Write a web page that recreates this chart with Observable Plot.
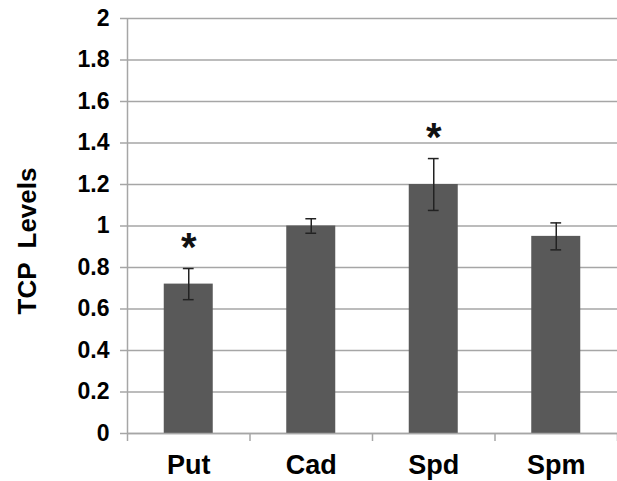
<!DOCTYPE html>
<html>
<head>
<meta charset="utf-8">
<script src="https://cdn.jsdelivr.net/npm/d3@7"></script>
<script src="https://cdn.jsdelivr.net/npm/@observablehq/plot@0.6"></script>
<style>
  html, body { margin: 0; padding: 0; background: #fff; }
  #chart svg { display: block; }
</style>
</head>
<body>
<div id="chart"></div>
<script>
const categories = ["Put", "Cad", "Spd", "Spm"];
const values = [0.72, 1.0, 1.2, 0.95];
const errors = [0.075, 0.035, 0.125, 0.065];
const significant = [true, false, true, false];
const yTicks = [0, 0.2, 0.4, 0.6, 0.8, 1, 1.2, 1.4, 1.6, 1.8, 2];
const yLabel = "TCP  Levels";

const data = categories.map((c, i) => ({
  cat: c, i, value: values[i], err: errors[i], sig: significant[i]
}));
const boundaries = d3.range(categories.length + 1);

const font = "'Liberation Sans', Arial, Helvetica, sans-serif";
const gridColor = "#a6a6a6";
const barColor = "#595959";
const capHalf = 0.044;

const chart = Plot.plot({
  width: 617,
  height: 481,
  marginLeft: 127,
  marginRight: 0,
  marginTop: 18,
  marginBottom: 48,
  style: { fontFamily: font, background: "#fff", color: "#000", fontSize: "21px" },
  x: { type: "linear", domain: [0, categories.length], axis: null },
  y: { type: "linear", domain: [0, 2], axis: null },
  marks: [
    Plot.ruleY(yTicks, { y: d => d, stroke: gridColor, strokeWidth: 1.5 }),
    Plot.ruleY(yTicks, { y: d => d, x1: 0, x2: 0, insetLeft: -7, stroke: gridColor, strokeWidth: 1.5 }),
    Plot.text(yTicks, {
      y: d => d, frameAnchor: "left", dx: -18, textAnchor: "end",
      text: d => String(+d.toFixed(1)),
      fontSize: 23, fontWeight: "bold", fill: "#000", lineAnchor: "middle"
    }),
    Plot.ruleX([0], { x: d => d, y1: 0, y2: 2, stroke: gridColor, strokeWidth: 1.5 }),
    Plot.ruleX(boundaries, {
      x: d => d, y1: 0, y2: 0, insetBottom: -8, stroke: gridColor, strokeWidth: 1.5
    }),
    Plot.rectY(data, {
      x1: d => d.i + 0.3, x2: d => d.i + 0.7, y1: 0, y2: "value", fill: barColor
    }),
    Plot.ruleY([0], { y: d => d, stroke: gridColor, strokeWidth: 1.5 }),
    Plot.ruleX(data, { x: d => d.i + 0.5, y1: d => d.value - d.err, y2: d => d.value + d.err, stroke: "#222", strokeWidth: 1.5 }),
    Plot.ruleY(data, { x1: d => d.i + 0.5 - capHalf, x2: d => d.i + 0.5 + capHalf, y: d => d.value + d.err, stroke: "#222", strokeWidth: 1.5 }),
    Plot.ruleY(data, { x1: d => d.i + 0.5 - capHalf, x2: d => d.i + 0.5 + capHalf, y: d => d.value - d.err, stroke: "#222", strokeWidth: 1.5 }),
    Plot.text(data.filter(d => d.sig), {
      x: d => d.i + 0.5, y: d => d.value + d.err, text: () => "*",
      dy: -20, fontSize: 40, fontWeight: "bold", fill: "#111", lineAnchor: "middle"
    }),
    Plot.text(data, {
      x: d => d.i + 0.5, y: () => 0, text: "cat", dy: 32,
      fontSize: 27, fontWeight: "bold", fill: "#000", lineAnchor: "middle"
    }),
    Plot.text([yLabel], {
      frameAnchor: "left", dx: -100, dy: 15, rotate: -90, text: d => d, textAnchor: "middle",
      fontSize: 26, fontWeight: "bold", fill: "#000", lineAnchor: "middle"
    })
  ]
});

document.getElementById("chart").appendChild(chart);
</script>
</body>
</html>
